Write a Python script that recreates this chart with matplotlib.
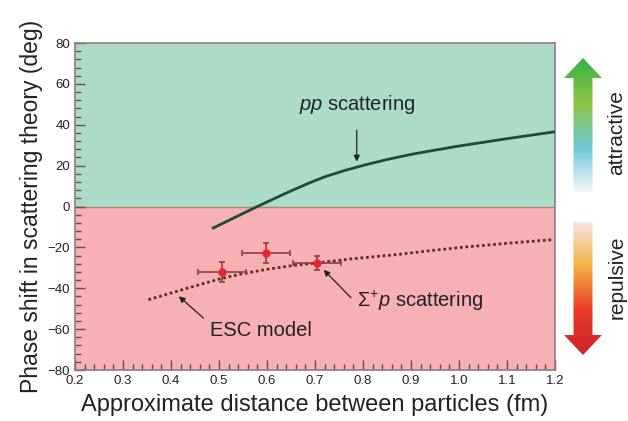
import numpy as np
import matplotlib
matplotlib.use("Agg")
import matplotlib.pyplot as plt
from matplotlib.patches import Polygon
from matplotlib.colors import LinearSegmentedColormap
from matplotlib.ticker import MultipleLocator

plt.rcParams['font.family'] = ['Liberation Sans', 'DejaVu Sans']
plt.rcParams['mathtext.fontset'] = 'custom'
plt.rcParams['mathtext.rm'] = 'Liberation Sans'
plt.rcParams['mathtext.it'] = 'Liberation Sans:italic'

# pp scattering curve
pp_x = [0.488, 0.53, 0.578, 0.62, 0.645, 0.669, 0.695, 0.72, 0.76, 0.80, 0.85, 0.90, 0.95, 1.00, 1.05, 1.10, 1.15, 1.20]
pp_y = [-10.5, -5.7, -0.2, 4.4, 7.1, 9.6, 12.2, 14.5, 17.5, 20.1, 23.0, 25.5, 27.6, 29.6, 31.4, 33.2, 34.9, 36.6]

# ESC model curve
esc_x = [0.353, 0.412, 0.46, 0.502, 0.55, 0.606, 0.65, 0.703, 0.78, 0.87, 0.94, 1.009, 1.10, 1.196]
esc_y = [-45.6, -41.5, -38.2, -35.4, -32.8, -30.5, -29.0, -27.6, -25.5, -23.5, -21.6, -19.9, -18.0, -16.2]

# Sigma+ p data points
sig_x = [0.506, 0.598, 0.705]
sig_y = [-32, -22.7, -27.8]
sig_xerr = [0.05, 0.05, 0.05]
sig_yerr = [5, 5, 3.5]

fig = plt.figure(figsize=(6.28, 4.21), dpi=100)
ax = fig.add_axes([0.1194, 0.1211, 0.7643, 0.7767])

ax.axhspan(0, 80, color='#acdcc7', zorder=0)
ax.axhspan(-80, 0, color='#f7b0b3', zorder=0)
ax.axhline(0, color='#a08a80', lw=1.0, zorder=1)

ax.plot(pp_x, pp_y, color='#1f4a35', lw=2, zorder=3)
ax.plot(esc_x, esc_y, color='#5a2c2c', lw=2, ls=(0, (1, 1)), zorder=3)
ax.errorbar(sig_x, sig_y, xerr=sig_xerr, yerr=sig_yerr, fmt='o', ms=5,
            mfc='#e8262a', mec='#e8262a', ecolor='#8b3e3e', elinewidth=1.2,
            capsize=2.5, capthick=1.2, zorder=4)

ax.set_xlim(0.2, 1.2)
ax.set_ylim(-80, 80)
ax.xaxis.set_minor_locator(MultipleLocator(0.02))
ax.yaxis.set_minor_locator(MultipleLocator(4))
ax.set_xticks(np.arange(0.2, 1.21, 0.1))
ax.set_xticklabels(['%.1f' % v for v in np.arange(0.2, 1.21, 0.1)])
ax.set_yticks(np.arange(-80, 81, 20))
ax.set_yticklabels([str(v).replace('-', '\u2212') for v in range(-80, 81, 20)])
ax.tick_params(which='both', direction='in', colors='#6a4a4a', labelcolor='#222222')
ax.tick_params(which='major', length=7, width=1, labelsize=9.5)
ax.tick_params(which='minor', length=4, width=1)
ax.tick_params(axis='y', which='both', right=False)
ax.tick_params(axis='x', which='both', top=False)
for s in ax.spines.values():
    s.set_color('#8a8080')
    s.set_linewidth(1.2)

ax.set_xlabel('Approximate distance between particles (fm)', fontsize=17,
              color='#222222', labelpad=5)
ax.set_ylabel('Phase shift in scattering theory (deg)', fontsize=16.5,
              color='#222222', labelpad=3)

arrow = dict(arrowstyle='-|>', color='#222222', lw=0.9, mutation_scale=9)
ax.annotate('', xy=(0.787, 20.6), xytext=(0.787, 38.7), arrowprops=arrow)
ax.text(0.789, 50, r'$pp$ scattering', fontsize=14.5, ha='center', va='center', color='#222222')

ax.annotate('', xy=(0.714, -30), xytext=(0.779, -45.6), arrowprops=arrow)
ax.text(0.787, -46, r'$\Sigma^{+}p$ scattering', fontsize=14.5, ha='left', va='center', color='#222222')

ax.annotate('', xy=(0.412, -43), xytext=(0.472, -55.5), arrowprops=arrow)
ax.text(0.481, -60.5, 'ESC model', fontsize=14.5, ha='left', va='center', color='#222222')

# gradient arrows on the right, in pixel coordinates
ov = fig.add_axes([0, 0, 1, 1], zorder=-1)
ov.set_xlim(0, 628)
ov.set_ylim(421, 0)
ov.axis('off')

def grad_arrow(top, bottom, up, colors):
    cx = 583
    sw, hw, hh = 9.5, 19, 20
    if up:
        pts = [(cx - sw, bottom), (cx - sw, top + hh), (cx - hw, top + hh), (cx, top),
               (cx + hw, top + hh), (cx + sw, top + hh), (cx + sw, bottom)]
    else:
        pts = [(cx - sw, top), (cx - sw, bottom - hh), (cx - hw, bottom - hh), (cx, bottom),
               (cx + hw, bottom - hh), (cx + sw, bottom - hh), (cx + sw, top)]
    poly = Polygon(pts, closed=True, facecolor='none', edgecolor='none', transform=ov.transData)
    ov.add_patch(poly)
    cmap = LinearSegmentedColormap.from_list('g', colors)
    grad = np.linspace(0, 1, 256).reshape(-1, 1)
    im = ov.imshow(grad, cmap=cmap, aspect='auto', extent=(cx - hw, cx + hw, bottom, top),
                   interpolation='bilinear')
    im.set_clip_path(poly)

grad_arrow(58, 192, True, ['#36b04a', '#8cc63f', '#6ec6d6', '#f4f8fb'])
grad_arrow(222, 355, False, ['#f6e6e2', '#f4b044', '#ea3a26', '#c9252b'])

fig.text(617 / 628, 1 - 133 / 421, 'attractive', rotation=90, fontsize=15,
         ha='center', va='center', color='#222222')
fig.text(617 / 628, 1 - 277 / 421, 'repulsive', rotation=90, fontsize=15,
         ha='center', va='center', color='#222222')

fig.savefig('out.png', dpi=100)
